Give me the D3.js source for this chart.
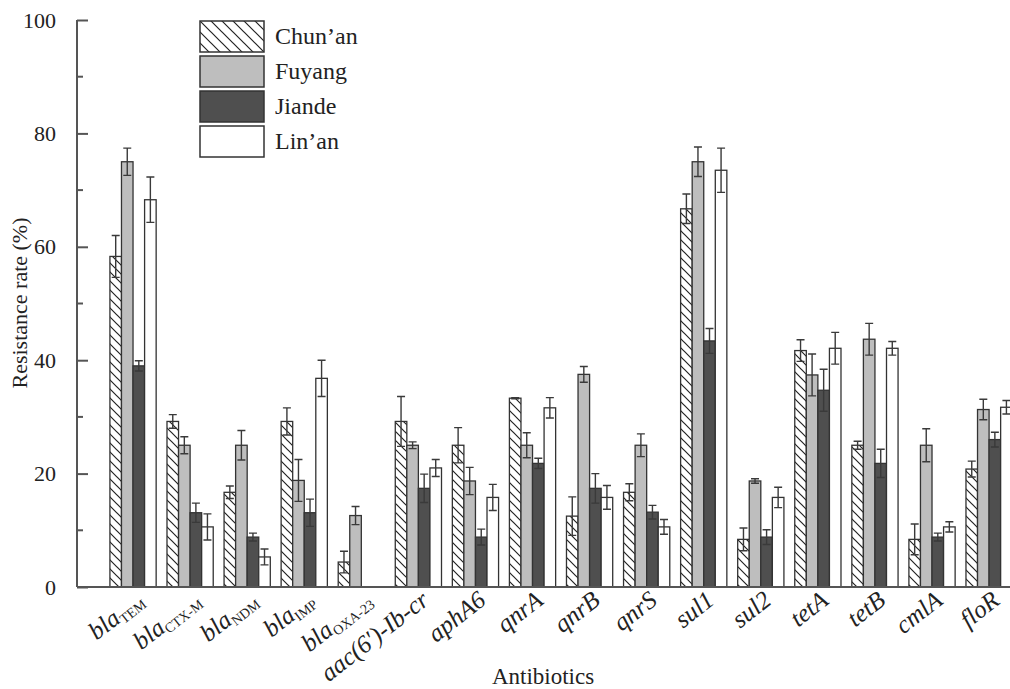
<!DOCTYPE html>
<html>
<head>
<meta charset="utf-8">
<script src="https://cdn.jsdelivr.net/npm/d3@7"></script>
<style>
  body { margin: 0; background: #fff; }
  svg text { font-family: "Liberation Serif", "Times New Roman", serif; fill: #222; }
</style>
</head>
<body>
<div id="chart"></div>
<script>
// categories (gene), label parts: [italic main, upright subscript]
var genes = ["blaTEM", "blaCTX-M", "blaNDM", "blaIMP", "blaOXA-23", "aac(6')-Ib-cr", "aphA6",
  "qnrA", "qnrB", "qnrS", "sul1", "sul2", "tetA", "tetB", "cmlA", "floR"];
var tickLabels = [["bla", "TEM"], ["bla", "CTX-M"], ["bla", "NDM"], ["bla", "IMP"], ["bla", "OXA-23"],
  ["aac(6\u2032)-Ib-cr", ""], ["aphA6", ""], ["qnrA", ""], ["qnrB", ""], ["qnrS", ""], ["sul1", ""],
  ["sul2", ""], ["tetA", ""], ["tetB", ""], ["cmlA", ""], ["floR", ""]];
var regions = ["Chun\u2019an", "Fuyang", "Jiande", "Lin\u2019an"];

// resistance rate (%) per region
var chunan = [58.3, 29.2, 16.7, 29.2, 4.4, 29.2, 25.0, 33.3, 12.5, 16.7, 66.7, 8.4, 41.7, 25.0, 8.4, 20.8];
var fuyang = [75.0, 25.0, 25.0, 18.8, 12.6, 25.0, 18.7, 25.0, 37.5, 25.0, 75.0, 18.7, 37.4, 43.7, 25.0, 31.3];
var jiande = [39.0, 13.1, 8.8, 13.1, 0, 17.4, 8.8, 21.8, 17.4, 13.2, 43.4, 8.8, 34.7, 21.8, 8.8, 26.0];
var linan  = [68.3, 10.6, 5.3, 36.8, 0, 21.0, 15.8, 31.6, 15.8, 10.6, 73.5, 15.8, 42.1, 42.1, 10.6, 31.7];

// error (sd)
var chunanErr = [3.7, 1.2, 1.1, 2.4, 1.9, 4.4, 3.1, 0.1, 3.4, 1.5, 2.6, 2.0, 1.9, 0.7, 2.7, 1.4];
var fuyangErr = [2.4, 1.5, 2.6, 3.7, 1.6, 0.6, 2.4, 2.2, 1.4, 2.0, 2.6, 0.4, 3.7, 2.8, 2.9, 1.8];
var jiandeErr = [0.9, 1.7, 0.7, 2.4, 0, 2.5, 1.4, 0.9, 2.6, 1.2, 2.2, 1.3, 3.7, 2.5, 0.7, 1.3];
var linanErr  = [4.0, 2.3, 1.4, 3.2, 0, 1.5, 2.3, 1.8, 2.1, 1.3, 3.9, 1.8, 2.8, 1.2, 0.9, 1.2];

var yTicks = [0, 20, 40, 60, 80, 100];

var series = [chunan, fuyang, jiande, linan];
var errs = [chunanErr, fuyangErr, jiandeErr, linanErr];
var fills = ["url(#hatch)", "#bebebe", "#4f4f4f", "#ffffff"];

var W = 1010, H = 689;
var m = [20, 0, 102, 77]; // top right bottom left
var FONT = "Liberation Serif";

var svg = d3.select("#chart").append("svg")
  .attr("width", W).attr("height", H)
  .attr("font-family", FONT);

var defs = svg.append("defs");
function hatch(id, s) {
  defs.append("pattern")
    .attr("id", id)
    .attr("patternUnits", "userSpaceOnUse")
    .attr("width", s).attr("height", s)
    .append("path")
    .attr("d", "M0,0L" + s + "," + s + "M" + (-s / 2) + "," + (s / 2) + "L" + (s / 2) + "," + (s * 1.5) +
      "M" + (s / 2) + "," + (-s / 2) + "L" + (s * 1.5) + "," + (s / 2))
    .attr("stroke", "#222").attr("stroke-width", 1.2);
}
hatch("hatch", 9);
hatch("hatchLeg", 11);

var y = d3.scaleLinear().domain([0, 100]).range([587, 20]);

var x = d3.scaleBand().domain(genes)
  .range([104.5, 104.5 + 16 * 57.07])
  .paddingInner(0.19).paddingOuter(0.095);
var xs = d3.scaleBand().domain(d3.range(4)).range([0, x.bandwidth()]);

// bars
var g = svg.append("g");
series.forEach(function (vals, si) {
  g.append("g").selectAll("rect")
    .data(vals)
    .enter().append("rect")
    .attr("display", function (d) { return d > 0 ? null : "none"; })
    .attr("x", function (d, i) { return x(genes[i]) + xs(si); })
    .attr("y", function (d) { return y(d); })
    .attr("width", xs.bandwidth())
    .attr("height", function (d) { return y(0) - y(d); })
    .attr("fill", fills[si])
    .attr("stroke", "#333")
    .attr("stroke-width", 1.3);
});

// error bars
series.forEach(function (vals, si) {
  var eg = g.append("g").attr("stroke", "#3a3a3a").attr("stroke-width", 1.4).attr("fill", "none");
  vals.forEach(function (v, i) {
    var e = errs[si][i];
    if (v <= 0 || e <= 0) return;
    var cx = x(genes[i]) + xs(si) + xs.bandwidth() / 2;
    var hw = 4;
    eg.append("path")
      .attr("d", "M" + cx + "," + y(v - e) + "V" + y(v + e) +
        "M" + (cx - hw) + "," + y(v + e) + "H" + (cx + hw) +
        "M" + (cx - hw) + "," + y(v - e) + "H" + (cx + hw));
  });
});

// y axis
var yAxis = d3.axisLeft(y).tickValues(yTicks).tickSize(-11).tickPadding(21);
var gy = svg.append("g").attr("transform", "translate(" + m[3] + ",0)").call(yAxis)
  .attr("font-family", FONT);
gy.select(".domain").attr("stroke", "#555").attr("stroke-width", 2).attr("d", "M0," + y(100) + "V" + y(0));
gy.selectAll(".tick line").attr("stroke", "#555").attr("stroke-width", 2);
gy.selectAll(".tick text").attr("font-size", 22).attr("font-family", FONT).attr("fill", "#222");
gy.selectAll(".minor").data([10, 30, 50, 70, 90]).enter().append("line")
  .attr("x1", 0).attr("x2", 6)
  .attr("y1", function (d) { return y(d); }).attr("y2", function (d) { return y(d); })
  .attr("stroke", "#555").attr("stroke-width", 2);

// x axis line
svg.append("line")
  .attr("x1", m[3]).attr("x2", W)
  .attr("y1", y(0)).attr("y2", y(0))
  .attr("stroke", "#555").attr("stroke-width", 2);

// x tick labels
var xl = svg.append("g");
genes.forEach(function (gname, i) {
  var cx = x(gname) + x.bandwidth() / 2;
  var t = xl.append("text")
    .attr("transform", "translate(" + (cx + 12) + ",603) rotate(-38)")
    .attr("text-anchor", "end")
    .attr("font-family", FONT)
    .attr("font-size", 25);
  t.append("tspan").attr("font-style", "italic").text(tickLabels[i][0]);
  if (tickLabels[i][1]) {
    t.append("tspan").attr("font-size", 14).attr("dy", 4).text(tickLabels[i][1]);
  }
});

// axis titles
svg.append("text")
  .attr("x", 543).attr("y", 684)
  .attr("text-anchor", "middle")
  .attr("font-family", FONT)
  .attr("font-size", 23)
  .text("Antibiotics");

svg.append("text")
  .attr("transform", "translate(27,303) rotate(-90)")
  .attr("text-anchor", "middle")
  .attr("font-family", FONT)
  .attr("font-size", 22)
  .text("Resistance rate (%)");

// legend
var legFills = ["url(#hatchLeg)", "#bebebe", "#4f4f4f", "#ffffff"];
var leg = svg.append("g").attr("transform", "translate(200,21)");
regions.forEach(function (r, i) {
  leg.append("rect")
    .attr("x", 0).attr("y", i * 35)
    .attr("width", 64).attr("height", 31)
    .attr("fill", legFills[i])
    .attr("stroke", "#333").attr("stroke-width", 1.5);
  leg.append("text")
    .attr("x", 75).attr("y", i * 35 + 23)
    .attr("font-family", FONT)
    .attr("font-size", 24)
    .text(r);
});
</script>
</body>
</html>
